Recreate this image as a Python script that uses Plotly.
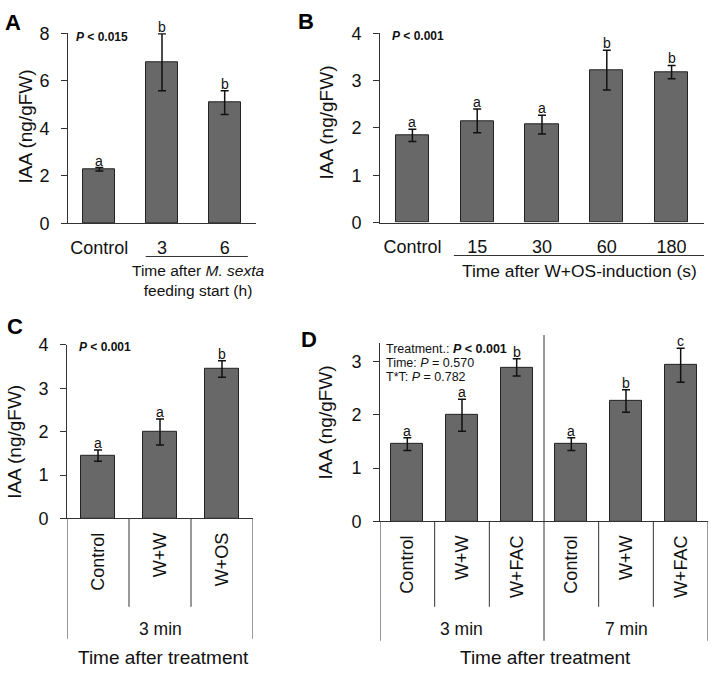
import plotly.graph_objects as go

W, H = 711, 676
FONT = "Liberation Sans, Arial, sans-serif"
BAR_FILL = "#686868"
BAR_LINE = "#222222"
AX = "#333333"

# ---------------- data ----------------
a_cats = ["Control", "3", "6"]
a_vals = [2.28, 6.78, 5.08]
a_errs = [0.07, 1.20, 0.50]
a_sig = ["a", "b", "b"]

b_cats = ["Control", "15", "30", "60", "180"]
b_vals = [1.84, 2.15, 2.07, 3.22, 3.18]
b_errs = [0.13, 0.25, 0.20, 0.42, 0.14]
b_sig = ["a", "a", "a", "b", "b"]

c_cats = ["Control", "W+W", "W+OS"]
c_vals = [1.45, 1.99, 3.44]
c_errs = [0.13, 0.30, 0.19]
c_sig = ["a", "a", "b"]
c_groups = ["3 min"]

d_cats = ["Control", "W+W", "W+FAC", "Control", "W+W", "W+FAC"]
d_vals = [1.45, 1.99, 2.89, 1.45, 2.26, 2.93]
d_errs = [0.12, 0.30, 0.16, 0.12, 0.21, 0.32]
d_sig = ["a", "a", "b", "a", "b", "c"]
d_groups = ["3 min", "7 min"]

y_title = "IAA (ng/gFW)"


def px(x):
    return x / W


def py(y):
    return 1 - y / H


fig = go.Figure()

panels = [
    ("", a_cats, a_vals, a_errs, a_sig, (68, 256), (24, 220), [0, 8], 2, 0.51, 0),
    ("2", b_cats, b_vals, b_errs, b_sig, (380, 704), (24, 219), [0, 4], 1, 0.51, 0),
    ("3", c_cats, c_vals, c_errs, c_sig, (67, 253), (345, 524), [0, 4], 1, 0.55, -90),
    ("4", d_cats, d_vals, d_errs, d_sig, (380, 708), (343, 527), [0, 3.35], 1, 0.58, -90),
]

annotations = []
shapes = []

for name, cats, vals, errs, sig, xd, yd, yr, dt, bw, ta in panels:
    xs = list(range(len(cats)))
    fig.add_trace(go.Bar(
        x=xs, y=vals, width=bw,
        marker=dict(color=BAR_FILL, line=dict(color=BAR_LINE, width=1)),
        error_y=dict(type="data", array=errs, visible=True, color="#111111",
                     thickness=1.5, width=4),
        xaxis="x" + name, yaxis="y" + name, showlegend=False,
    ))
    xa = dict(
        domain=[px(xd[0]), px(xd[1])], range=[-0.5, len(cats) - 0.5],
        anchor="y" + name, tickmode="array", tickvals=xs, ticktext=cats,
        tickangle=ta, showline=True, linecolor=AX, linewidth=1,
        ticks="outside", ticklen=8 if ta == 0 else 6, tickcolor="rgba(0,0,0,0)",
        tickfont=dict(family=FONT, size=18, color="#111"),
        showgrid=False, zeroline=False, fixedrange=True,
    )
    ya = dict(
        domain=[py(yd[1]), py(yd[0])], range=yr, anchor="x" + name,
        dtick=dt, tick0=0, ticks="outside", ticklen=6, tickcolor=AX,
        showline=True, linecolor=AX, linewidth=1, ticklabelstandoff=8,
        tickfont=dict(family=FONT, size=18, color="#111"),
        showgrid=False, zeroline=False, fixedrange=True,
    )
    fig.layout["xaxis" + name] = xa
    fig.layout["yaxis" + name] = ya
    for i, (v, e, s) in enumerate(zip(vals, errs, sig)):
        annotations.append(dict(
            x=i, y=v + e, xref="x" + name, yref="y" + name, text=s,
            showarrow=False, yanchor="bottom", yshift=-3,
            font=dict(family=FONT, size=14, color="#111"),
        ))

# panel letters
for lab, x, y in [("A", 13, 13), ("B", 306, 12), ("C", 15, 326), ("D", 309, 340)]:
    annotations.append(dict(x=px(x), y=py(y), xref="paper", yref="paper", text=f"<b>{lab}</b>",
                            showarrow=False, xanchor="center", yanchor="middle",
                            font=dict(family=FONT, size=22, color="#000")))

# y titles
for x, y in [(25, 120), (327, 116), (15, 445), (325, 425)]:
    annotations.append(dict(x=px(x), y=py(y), xref="paper", yref="paper", text=y_title,
                            textangle=-90, showarrow=False, xanchor="center", yanchor="middle",
                            font=dict(family=FONT, size=19, color="#111")))

# P-value texts
for txt, x, y in [("<b><i>P</i> &lt; 0.015</b>", 74, 28), ("<b><i>P</i> &lt; 0.001</b>", 390, 27),
                  ("<b><i>P</i> &lt; 0.001</b>", 77, 347)]:
    annotations.append(dict(x=px(x), y=py(y), xref="paper", yref="paper", text=txt,
                            showarrow=False, xanchor="left", yanchor="middle",
                            font=dict(family=FONT, size=12, color="#111")))
for txt, y in [("Treatment.: <b><i>P</i> &lt; 0.001</b>", 349), ("Time: <i>P</i> = 0.570", 364),
               ("T*T: <i>P</i> = 0.782", 378)]:
    annotations.append(dict(x=px(384), y=py(y), xref="paper", yref="paper", text=txt,
                            showarrow=False, xanchor="left", yanchor="middle",
                            font=dict(family=FONT, size=12.5, color="#111")))

# A / B secondary labels
shapes.append(dict(type="line", xref="x", yref="paper", x0=0.74, x1=2.37,
                   y0=py(254), y1=py(254), line=dict(color=AX, width=1)))
annotations.append(dict(x=px(198), y=py(279), xref="paper", yref="paper",
                        text="Time after <i>M. sexta</i><br>feeding start (h)",
                        showarrow=False, xanchor="center", yanchor="middle",
                        font=dict(family=FONT, size=15.5, color="#111")))
shapes.append(dict(type="line", xref="x2", yref="paper", x0=0.64, x1=4.56,
                   y0=py(253), y1=py(253), line=dict(color=AX, width=1)))
annotations.append(dict(x=px(579), y=py(269), xref="paper", yref="paper",
                        text="Time after W+OS-induction (s)",
                        showarrow=False, xanchor="center", yanchor="middle",
                        font=dict(family=FONT, size=17.4, color="#111")))

# C hierarchical axis
for xv in [0.5, 1.5]:
    shapes.append(dict(type="line", xref="x3", yref="paper", x0=xv, x1=xv,
                       y0=py(615), y1=py(524), line=dict(color=AX, width=1)))
for xv in [-0.5, 2.5]:
    shapes.append(dict(type="line", xref="x3", yref="paper", x0=xv, x1=xv,
                       y0=py(648), y1=py(524), line=dict(color=AX, width=1)))
annotations.append(dict(x=1, y=py(638), xref="x3", yref="paper", text=c_groups[0],
                        showarrow=False, xanchor="center", yanchor="middle",
                        font=dict(family=FONT, size=17.5, color="#111")))
annotations.append(dict(x=px(163), y=py(667), xref="paper", yref="paper", text="Time after treatment",
                        showarrow=False, xanchor="center", yanchor="middle",
                        font=dict(family=FONT, size=19, color="#111")))

# D hierarchical axis
for xv in [0.5, 1.5, 3.5, 4.5]:
    shapes.append(dict(type="line", xref="x4", yref="paper", x0=xv, x1=xv,
                       y0=py(615), y1=py(527), line=dict(color=AX, width=1)))
for xv in [-0.5, 5.5]:
    shapes.append(dict(type="line", xref="x4", yref="paper", x0=xv, x1=xv,
                       y0=py(650), y1=py(527), line=dict(color=AX, width=1)))
shapes.append(dict(type="line", xref="x4", yref="paper", x0=2.5, x1=2.5,
                   y0=py(650), y1=py(335), line=dict(color=AX, width=1)))
for gx, g in zip([1, 4], d_groups):
    annotations.append(dict(x=gx, y=py(638), xref="x4", yref="paper", text=g,
                            showarrow=False, xanchor="center", yanchor="middle",
                            font=dict(family=FONT, size=17.5, color="#111")))
annotations.append(dict(x=px(545), y=py(667), xref="paper", yref="paper", text="Time after treatment",
                        showarrow=False, xanchor="center", yanchor="middle",
                        font=dict(family=FONT, size=19, color="#111")))

fig.update_layout(
    width=W, height=H, margin=dict(l=0, r=0, t=0, b=0),
    paper_bgcolor="white", plot_bgcolor="white",
    annotations=annotations, shapes=shapes, bargap=0,
    font=dict(family=FONT),
)

fig.write_html("out.html", config={"displayModeBar": False},
               post_script="document.body.style.margin='0';document.body.style.overflow='hidden';")
